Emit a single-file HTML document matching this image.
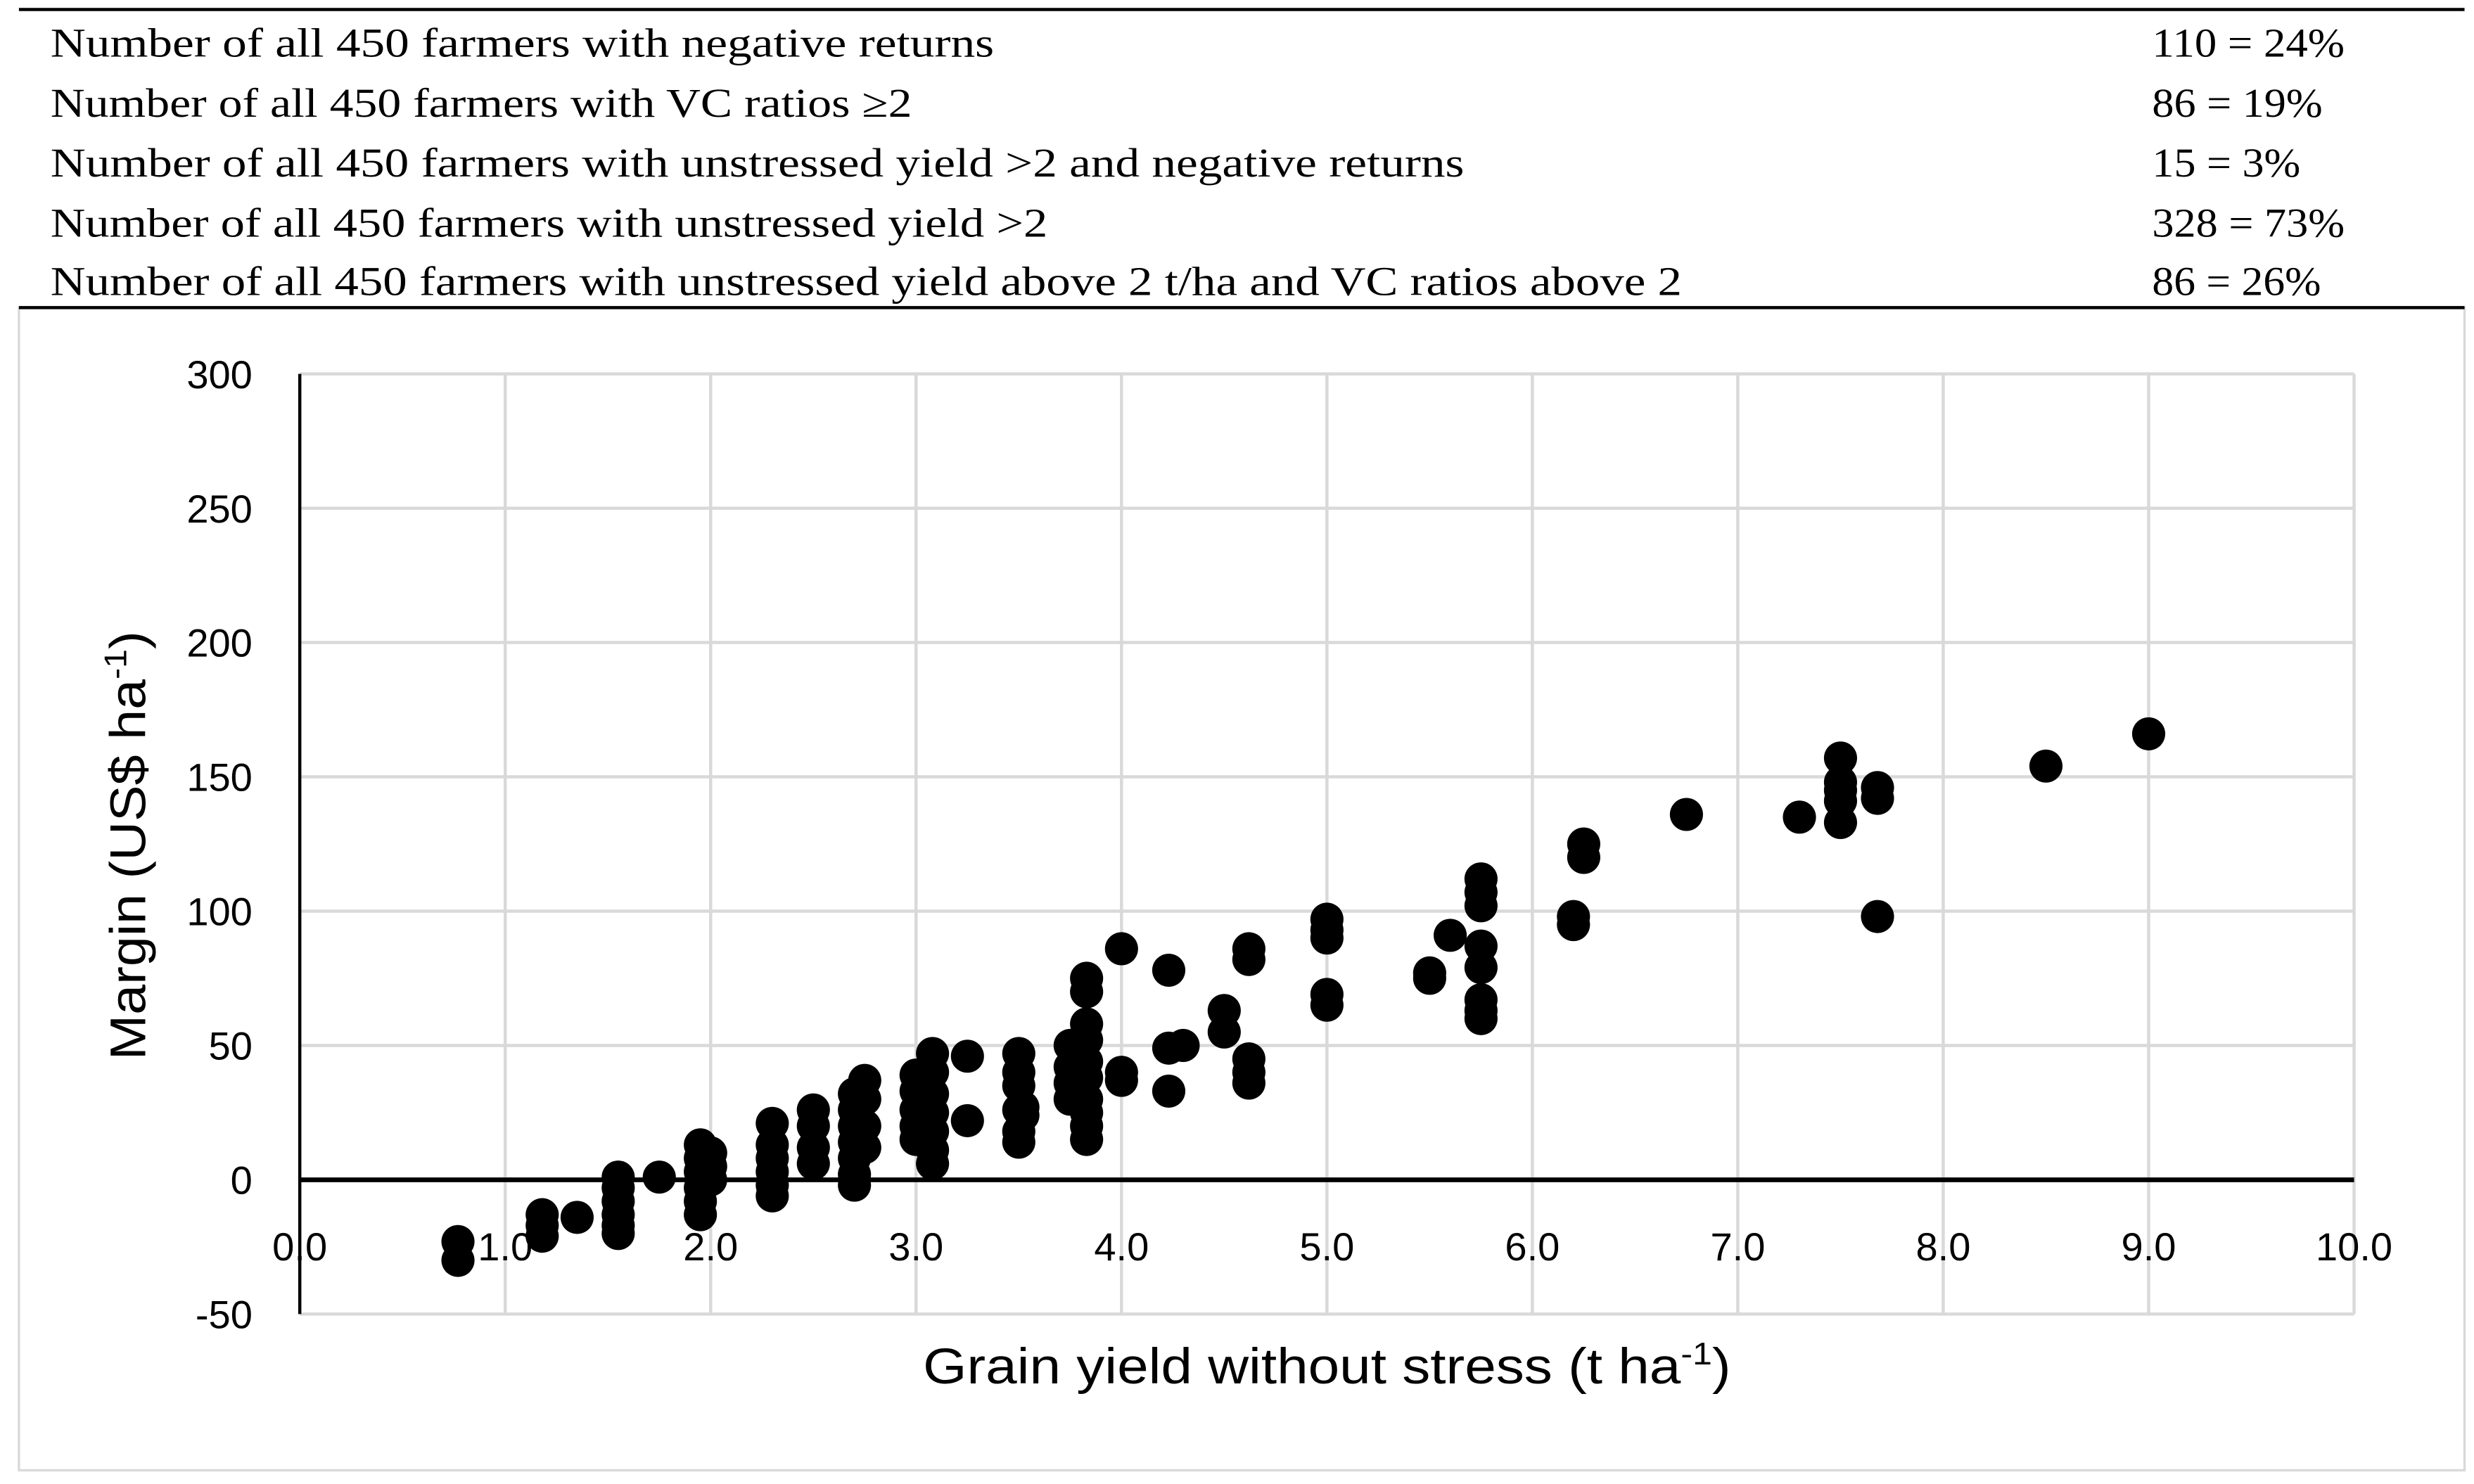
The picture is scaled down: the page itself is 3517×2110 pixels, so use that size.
<!DOCTYPE html>
<html><head><meta charset="utf-8">
<style>
html,body{margin:0;padding:0;background:#fff;}
svg{display:block;}
.tbl{font-family:"Liberation Serif",serif;font-size:26px;fill:#000;}
.ax{font-family:"Liberation Sans",sans-serif;fill:#000;}
</style></head>
<body>
<svg id="chart" width="3517" height="2110" viewBox="0 0 1568 940.7" preserveAspectRatio="none" xmlns="http://www.w3.org/2000/svg">
<rect x="0" y="0" width="1568" height="940.7" fill="#fff"/>
<line x1="12" y1="6" x2="1562" y2="6" stroke="#000" stroke-width="2"/>
<g class="tbl">
<text x="32" y="36" textLength="598" lengthAdjust="spacingAndGlyphs">Number of all 450 farmers with negative returns</text>
<text x="32" y="74" textLength="546" lengthAdjust="spacingAndGlyphs">Number of all 450 farmers with VC ratios ≥2</text>
<text x="32" y="112" textLength="896" lengthAdjust="spacingAndGlyphs">Number of all 450 farmers with unstressed yield &gt;2 and negative returns</text>
<text x="32" y="150" textLength="632" lengthAdjust="spacingAndGlyphs">Number of all 450 farmers with unstressed yield &gt;2</text>
<text x="32" y="187" textLength="1034" lengthAdjust="spacingAndGlyphs">Number of all 450 farmers with unstressed yield above 2 t/ha and VC ratios above 2</text>
<text x="1364" y="36" textLength="122" lengthAdjust="spacingAndGlyphs">110 = 24%</text>
<text x="1364" y="74" textLength="108" lengthAdjust="spacingAndGlyphs">86 = 19%</text>
<text x="1364" y="112" textLength="94" lengthAdjust="spacingAndGlyphs">15 = 3%</text>
<text x="1364" y="150" textLength="122" lengthAdjust="spacingAndGlyphs">328 = 73%</text>
<text x="1364" y="187" textLength="107" lengthAdjust="spacingAndGlyphs">86 = 26%</text>
</g>
<rect x="12" y="195" width="1550" height="737" fill="none" stroke="#d9d9d9" stroke-width="1.5"/>
<line x1="12" y1="195" x2="1562" y2="195" stroke="#000" stroke-width="2"/>
<g id="grid"></g>
<g id="axes"></g>
<g id="dots"></g>
<text class="ax" font-size="32" text-anchor="middle" textLength="272" lengthAdjust="spacingAndGlyphs" transform="translate(92,536) rotate(-90)">Margin (US$ ha<tspan font-size="20" dy="-12">-1</tspan><tspan dy="12">)</tspan></text>
<text class="ax" font-size="32" text-anchor="middle" textLength="512" lengthAdjust="spacingAndGlyphs" x="841" y="877">Grain yield without stress (t ha<tspan font-size="20" dy="-12">-1</tspan><tspan dy="12">)</tspan></text>
</svg>
<script>
const xTicks = [0,1,2,3,4,5,6,7,8,9,10];
const yTicks = [-50,0,50,100,150,200,250,300];
const xVals = [0.77,0.77,1.18,1.18,1.18,1.35,1.55,1.55,1.55,1.55,1.55,1.55,1.75,1.95,1.95,1.95,1.95,1.95,1.95,2.0,2.0,2.0,2.3,2.3,2.3,2.3,2.3,2.3,2.5,2.5,2.5,2.5,2.7,2.7,2.7,2.7,2.7,2.7,2.7,2.75,2.75,2.75,2.75,3.0,3.0,3.0,3.0,3.0,3.08,3.08,3.08,3.08,3.08,3.08,3.08,3.25,3.25,3.5,3.5,3.5,3.5,3.5,3.5,3.52,3.52,3.75,3.75,3.75,3.75,3.83,3.83,3.83,3.83,3.83,3.83,3.83,3.83,3.83,3.83,4.0,4.0,4.0,4.23,4.23,4.23,4.3,4.5,4.5,4.62,4.62,4.62,4.62,4.62,5.0,5.0,5.0,5.0,5.0,5.5,5.5,5.6,5.75,5.75,5.75,5.75,5.75,5.75,5.75,5.75,6.2,6.2,6.25,6.25,6.75,7.3,7.5,7.5,7.5,7.5,7.5,7.68,7.68,7.68,8.5,9.0];
const yVals = [-23,-30,-13,-17,-21,-14,1,-3,-8,-13,-17,-20,1,13,8,3,-3,-8,-13,10,5,0,21,13,8,3,-2,-6,26,20,12,6,32,26,20,14,8,2,-2,37,30,20,12,39,33,26,20,15,47,40,32,25,18,11,6,46,22,47,40,35,26,18,14,27,24,50,42,36,30,75,70,58,52,44,38,30,25,20,15,86,40,37,78,49,33,50,63,55,86,82,45,40,36,97,93,90,69,65,77,75,91,112,107,102,87,79,67,63,60,98,95,125,120,136,135,157,148,145,141,133,146,142,98,154,166];
const NS = "http://www.w3.org/2000/svg";
const X0=190, X1=1492, Ytop=237, Ybot=833;
function sx(v){return X0+(v-0)/(10-0)*(X1-X0);}
function sy(v){return Ybot-(v+50)/(350)*(Ybot-Ytop);}
function mk(tag,attrs,parent){const e=document.createElementNS(NS,tag);for(const k in attrs)e.setAttribute(k,attrs[k]);parent.appendChild(e);return e;}
const grid=document.getElementById('grid'), axes=document.getElementById('axes'), dots=document.getElementById('dots');
xTicks.forEach(t=>{
  if(t>0){const l=mk('line',{x1:sx(t),y1:Ytop,x2:sx(t),y2:Ybot,stroke:'#d9d9d9','stroke-width':2},grid);
  
  }
  const tx=mk('text',{x:sx(t),y:sy(0)+51,'font-size':25,'text-anchor':'middle',class:'ax'},axes);
  tx.textContent=t.toFixed(1);
  
  
});
yTicks.forEach(t=>{
  if(t!==0){const l=mk('line',{x1:X0,y1:sy(t),x2:X1,y2:sy(t),stroke:'#d9d9d9','stroke-width':2},grid);
  
  }
  const tx=mk('text',{x:160,y:sy(t)+9,'font-size':25,'text-anchor':'end',class:'ax'},axes);
  tx.textContent=String(t);
  
  
});
const ya=mk('line',{x1:X0,y1:Ytop,x2:X0,y2:Ybot,stroke:'#000','stroke-width':2},axes);


const xa=mk('line',{x1:X0,y1:sy(0),x2:X1,y2:sy(0),stroke:'#000','stroke-width':3},axes);


xVals.forEach((v,i)=>{
  const c=mk('circle',{cx:sx(v),cy:sy(yVals[i]),r:10.5,fill:'#000'},dots);
  
  
});
</script>
</body></html>
